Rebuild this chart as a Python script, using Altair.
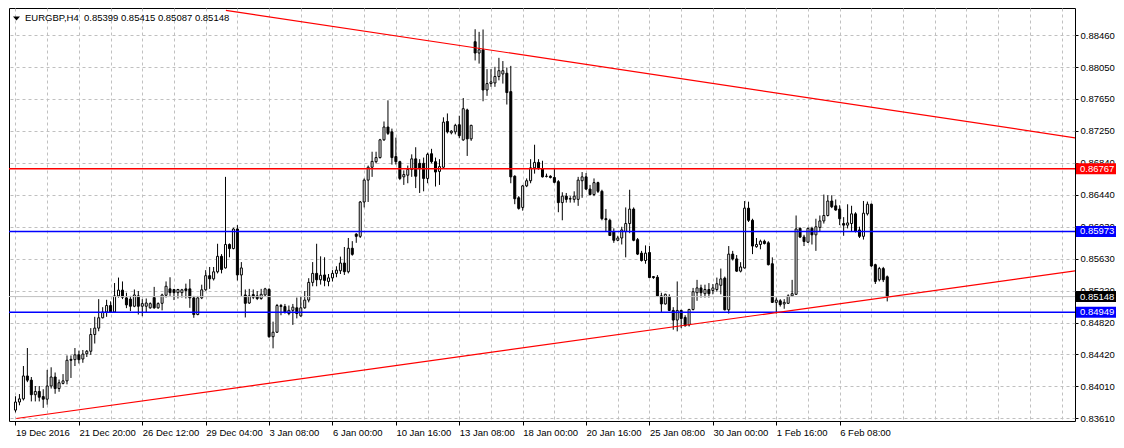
import json
import altair as alt
import pandas as pd

# ---------------- data (EURGBP, H4) ----------------
symbol = "EURGBP"
period = "H4"

opens = [
    0.83711, 0.83813, 0.83853, 0.84143, 0.84090, 0.83906, 0.83947, 0.83882, 0.83849, 0.84016,
    0.84130, 0.83984, 0.84049, 0.84081, 0.84354, 0.84350, 0.84411, 0.84358, 0.84424, 0.84456,
    0.84668, 0.84749, 0.84880, 0.84953, 0.85035, 0.84953, 0.85157, 0.85230, 0.85132, 0.85116,
    0.85026, 0.85157, 0.85026, 0.85026, 0.85006, 0.85136, 0.85006, 0.85063, 0.85165, 0.85246,
    0.85238, 0.85198, 0.85198, 0.85246, 0.85246, 0.85132, 0.84921, 0.85132, 0.85234, 0.85413,
    0.85373, 0.85462, 0.85658, 0.85511, 0.85808, 0.85756, 0.86004, 0.85422, 0.85169, 0.85067,
    0.85173, 0.85157, 0.85124, 0.85169, 0.85238, 0.84640, 0.84697, 0.85022, 0.85022, 0.84933,
    0.84974, 0.85006, 0.84904, 0.85006, 0.85104, 0.85328, 0.85442, 0.85361, 0.85422, 0.85340,
    0.85385, 0.85442, 0.85475, 0.85573, 0.85463, 0.85760, 0.85939, 0.85911, 0.86346, 0.86623,
    0.86786, 0.86856, 0.86908, 0.87133, 0.87295, 0.87234, 0.86921, 0.86856, 0.86664, 0.86685,
    0.86758, 0.86892, 0.86835, 0.86835, 0.86644, 0.86957, 0.86856, 0.86733, 0.86786, 0.87365,
    0.87222, 0.87234, 0.87324, 0.87132, 0.87511, 0.87145, 0.88375, 0.88232, 0.88273, 0.87764,
    0.87845, 0.87853, 0.87935, 0.87967, 0.87976, 0.87743, 0.86672, 0.86399, 0.86277, 0.86550,
    0.86615, 0.86778, 0.86847, 0.86766, 0.86672, 0.86672, 0.86656, 0.86603, 0.86338, 0.86420,
    0.86387, 0.86379, 0.86379, 0.86615, 0.86664, 0.86509, 0.86440, 0.86591, 0.86481, 0.86134,
    0.86114, 0.85971, 0.85861, 0.85890, 0.85971, 0.86073, 0.86256, 0.85869, 0.85698, 0.85605,
    0.85706, 0.85401, 0.85393, 0.85157, 0.85055, 0.85148, 0.84973, 0.84851, 0.84973, 0.84884,
    0.84790, 0.84985, 0.85197, 0.85258, 0.85185, 0.85238, 0.85226, 0.85238, 0.85291, 0.85381,
    0.84981, 0.85686, 0.85625, 0.85470, 0.85511, 0.86268, 0.86114, 0.85780, 0.85808, 0.85849,
    0.85829, 0.85564, 0.85075, 0.85095, 0.85055, 0.85063, 0.85157, 0.85177, 0.86012, 0.85902,
    0.85837, 0.86012, 0.85930, 0.86024, 0.86106, 0.86175, 0.86358, 0.86297, 0.86256, 0.86073,
    0.86053, 0.86073, 0.86196, 0.85992, 0.85911, 0.86196, 0.86318, 0.85552, 0.85361, 0.85503,
    0.85399,
]

highs = [
    0.83886, 0.83914, 0.84269, 0.84497, 0.84130, 0.84016, 0.84016, 0.83975, 0.84220, 0.84253,
    0.84187, 0.84098, 0.84167, 0.84403, 0.84403, 0.84497, 0.84464, 0.84472, 0.84472, 0.84749,
    0.84892, 0.85116, 0.85014, 0.85108, 0.85088, 0.85320, 0.85389, 0.85340, 0.85197, 0.85157,
    0.85238, 0.85218, 0.85116, 0.85124, 0.85075, 0.85271, 0.85075, 0.85185, 0.85340, 0.85393,
    0.85246, 0.85246, 0.85246, 0.85312, 0.85369, 0.85157, 0.85157, 0.85299, 0.85483, 0.85523,
    0.85523, 0.85817, 0.85686, 0.86664, 0.85821, 0.86020, 0.86053, 0.85585, 0.85238, 0.85246,
    0.85238, 0.85218, 0.85246, 0.85259, 0.85255, 0.84831, 0.85055, 0.85055, 0.85055, 0.85035,
    0.85055, 0.85136, 0.85157, 0.85218, 0.85381, 0.85585, 0.85817, 0.85658, 0.85646, 0.85434,
    0.85483, 0.85532, 0.85654, 0.85776, 0.85890, 0.85850, 0.85951, 0.86359, 0.86644, 0.86807,
    0.86982, 0.86982, 0.87145, 0.87365, 0.87633, 0.87275, 0.87161, 0.86868, 0.86746, 0.86807,
    0.86949, 0.87039, 0.86888, 0.86908, 0.86970, 0.87019, 0.86908, 0.86888, 0.87418, 0.87467,
    0.87255, 0.87336, 0.87438, 0.87662, 0.87527, 0.87324, 0.88533, 0.88500, 0.88530, 0.88028,
    0.88028, 0.88057, 0.88171, 0.88130, 0.88049, 0.88069, 0.86684, 0.86420, 0.86562, 0.86644,
    0.86888, 0.87071, 0.86888, 0.86868, 0.86705, 0.86684, 0.86778, 0.86623, 0.86469, 0.86460,
    0.86420, 0.86481, 0.86664, 0.86725, 0.86713, 0.86562, 0.86644, 0.86603, 0.86501, 0.86256,
    0.86134, 0.86012, 0.85918, 0.86032, 0.86277, 0.86501, 0.86277, 0.85890, 0.85727, 0.85796,
    0.85788, 0.85409, 0.85421, 0.85197, 0.85185, 0.85177, 0.85014, 0.85340, 0.84981, 0.84912,
    0.84994, 0.85258, 0.85360, 0.85299, 0.85299, 0.85319, 0.85307, 0.85389, 0.85503, 0.85401,
    0.85788, 0.85727, 0.85674, 0.85584, 0.86358, 0.86350, 0.86134, 0.85890, 0.85869, 0.85869,
    0.85849, 0.85645, 0.85136, 0.85116, 0.85116, 0.85177, 0.85360, 0.86175, 0.86024, 0.85930,
    0.86024, 0.86032, 0.86134, 0.86175, 0.86440, 0.86431, 0.86431, 0.86378, 0.86305, 0.86154,
    0.86317, 0.86298, 0.86216, 0.86033, 0.86359, 0.86351, 0.86326, 0.85564, 0.85524, 0.85524,
    0.85415,
]

lows = [
    0.83682, 0.83772, 0.83833, 0.84065, 0.83821, 0.83821, 0.83821, 0.83739, 0.83780, 0.83984,
    0.83918, 0.83943, 0.84037, 0.84037, 0.84118, 0.84269, 0.84301, 0.84310, 0.84383, 0.84411,
    0.84554, 0.84709, 0.84872, 0.84892, 0.84945, 0.84945, 0.85136, 0.85116, 0.85002, 0.84965,
    0.85014, 0.84921, 0.84900, 0.84953, 0.84994, 0.84994, 0.84994, 0.84974, 0.85136, 0.85157,
    0.85104, 0.85124, 0.85136, 0.85124, 0.85006, 0.84880, 0.84912, 0.85116, 0.85222, 0.85246,
    0.85352, 0.85442, 0.85442, 0.85503, 0.85646, 0.85747, 0.85352, 0.85157, 0.84884, 0.85055,
    0.85116, 0.85104, 0.85108, 0.85157, 0.84627, 0.84493, 0.84688, 0.84912, 0.84933, 0.84912,
    0.84790, 0.84872, 0.84892, 0.84994, 0.85075, 0.85279, 0.85279, 0.85300, 0.85279, 0.85279,
    0.85340, 0.85393, 0.85434, 0.85422, 0.85442, 0.85666, 0.85829, 0.85890, 0.86277, 0.86346,
    0.86664, 0.86835, 0.86896, 0.87120, 0.87194, 0.86819, 0.86819, 0.86623, 0.86562, 0.86583,
    0.86664, 0.86522, 0.86460, 0.86481, 0.86583, 0.86835, 0.86542, 0.86562, 0.86766, 0.87214,
    0.87202, 0.87202, 0.87153, 0.87120, 0.86929, 0.87120, 0.88138, 0.88098, 0.87621, 0.87690,
    0.87804, 0.87804, 0.87886, 0.87845, 0.87580, 0.86583, 0.86318, 0.86249, 0.86236, 0.86534,
    0.86583, 0.86705, 0.86754, 0.86656, 0.86656, 0.86644, 0.86583, 0.86216, 0.86114, 0.86338,
    0.86338, 0.86338, 0.86297, 0.86399, 0.86501, 0.86428, 0.86420, 0.86460, 0.86114, 0.85971,
    0.85918, 0.85829, 0.85849, 0.85808, 0.85645, 0.85951, 0.85849, 0.85674, 0.85592, 0.85564,
    0.85381, 0.85373, 0.85148, 0.84953, 0.85047, 0.84965, 0.84729, 0.84708, 0.84749, 0.84770,
    0.84770, 0.84973, 0.85095, 0.85136, 0.85136, 0.85136, 0.85177, 0.85210, 0.85177, 0.84973,
    0.84933, 0.85605, 0.85462, 0.85454, 0.85503, 0.86093, 0.85686, 0.85767, 0.85747, 0.85808,
    0.85543, 0.85067, 0.84933, 0.85022, 0.84994, 0.85055, 0.85144, 0.85169, 0.85890, 0.85788,
    0.85829, 0.85808, 0.85727, 0.85971, 0.86073, 0.86163, 0.86268, 0.86236, 0.86053, 0.85918,
    0.86012, 0.85972, 0.85960, 0.85890, 0.85870, 0.86175, 0.85524, 0.85308, 0.85340, 0.85332,
    0.85087,
]

closes = [
    0.83813, 0.83853, 0.84143, 0.84090, 0.83906, 0.83947, 0.83874, 0.83849, 0.84016, 0.84130,
    0.83984, 0.84057, 0.84081, 0.84342, 0.84342, 0.84411, 0.84350, 0.84420, 0.84456, 0.84668,
    0.84749, 0.84880, 0.84953, 0.85035, 0.84953, 0.85157, 0.85230, 0.85140, 0.85043, 0.85026,
    0.85169, 0.85026, 0.85059, 0.85067, 0.85059, 0.85006, 0.85059, 0.85169, 0.85279, 0.85198,
    0.85198, 0.85238, 0.85234, 0.85226, 0.85132, 0.84921, 0.85132, 0.85234, 0.85413, 0.85373,
    0.85462, 0.85658, 0.85491, 0.85808, 0.85756, 0.86004, 0.85422, 0.85511, 0.85063, 0.85157,
    0.85141, 0.85124, 0.85177, 0.85246, 0.84640, 0.84697, 0.85035, 0.85035, 0.84953, 0.84974,
    0.85014, 0.84933, 0.85006, 0.85104, 0.85328, 0.85442, 0.85361, 0.85418, 0.85353, 0.85385,
    0.85442, 0.85483, 0.85573, 0.85463, 0.85760, 0.85683, 0.85911, 0.86346, 0.86623, 0.86786,
    0.86860, 0.86908, 0.87133, 0.87295, 0.87214, 0.86908, 0.86856, 0.86644, 0.86693, 0.86758,
    0.86892, 0.86672, 0.86766, 0.86644, 0.86949, 0.86856, 0.86725, 0.86794, 0.87357, 0.87234,
    0.87243, 0.87316, 0.87185, 0.87527, 0.87145, 0.87316, 0.88232, 0.88273, 0.87764, 0.87845,
    0.87866, 0.87935, 0.88008, 0.88008, 0.87731, 0.86664, 0.86387, 0.86265, 0.86550, 0.86615,
    0.86778, 0.86847, 0.86778, 0.86664, 0.86670, 0.86656, 0.86595, 0.86338, 0.86420, 0.86379,
    0.86384, 0.86420, 0.86623, 0.86664, 0.86509, 0.86440, 0.86591, 0.86481, 0.86135, 0.86122,
    0.85922, 0.85861, 0.85890, 0.85992, 0.86073, 0.86256, 0.85861, 0.85686, 0.85605, 0.85698,
    0.85389, 0.85389, 0.85157, 0.85055, 0.85177, 0.84973, 0.84851, 0.84973, 0.84871, 0.84778,
    0.84985, 0.85210, 0.85258, 0.85197, 0.85238, 0.85185, 0.85258, 0.85311, 0.85372, 0.84981,
    0.85686, 0.85625, 0.85470, 0.85523, 0.86268, 0.86114, 0.85788, 0.85808, 0.85849, 0.85820,
    0.85552, 0.85075, 0.85104, 0.85047, 0.85075, 0.85157, 0.85185, 0.86004, 0.85902, 0.85845,
    0.86012, 0.85930, 0.86032, 0.86106, 0.86175, 0.86358, 0.86285, 0.86244, 0.86134, 0.86053,
    0.86081, 0.86196, 0.85972, 0.85911, 0.86204, 0.86318, 0.85536, 0.85340, 0.85503, 0.85361,
    0.85148,
]

# time-axis labels, one every 16 bars
time_labels = [
    "19 Dec 2016", "21 Dec 20:00", "26 Dec 12:00", "29 Dec 04:00", "3 Jan 08:00",
    "6 Jan 00:00", "10 Jan 16:00", "13 Jan 08:00", "18 Jan 00:00", "20 Jan 16:00",
    "25 Jan 08:00", "30 Jan 00:00", "1 Feb 16:00", "6 Feb 08:00",
]
LABEL_STEP = 16
GRID_STEP = 8

# price-axis labels
price_ticks = [0.83610, 0.84010, 0.84420, 0.84820, 0.85220, 0.85630, 0.86030,
               0.86440, 0.86840, 0.87250, 0.87650, 0.88050, 0.88460]

# horizontal levels
level_prices = [0.86767, 0.85973, 0.84949]
level_colors = ["#ff0000", "#0000ff", "#0000ff"]
bid_price = closes[-1]

# trend lines (bar index, price) pairs
trend_names = ["upper", "upper", "lower", "lower"]
trend_bars = [53.1, 269.9, 0.2, 269.9]
trend_prices = [0.88772, 0.87140, 0.83605, 0.85491]

# ---------------- layout ----------------
W, H = 1066, 413
FONT = "Liberation Sans"
FS = 9.5
PX_PER_BAR = 4
X_MIN = -0.375

candles = pd.DataFrame({
    "i": list(range(len(opens))),
    "open": opens, "high": highs, "low": lows, "close": closes,
})
levels = pd.DataFrame({"price": level_prices, "color": level_colors})
tags = pd.DataFrame({
    "price": level_prices + [bid_price],
    "color": level_colors + ["#000000"],
})
trends = pd.DataFrame({"name": trend_names, "bar": trend_bars, "price": trend_prices})
grid_bars = list(range(0, int(X_MIN + W / PX_PER_BAR) + 1, GRID_STEP))

x_scale = alt.Scale(domain=[X_MIN, X_MIN + W / PX_PER_BAR], nice=False, zero=False)
y_scale = alt.Scale(domain=[0.83573, 0.88802], nice=False, zero=False)

last_label_bar = LABEL_STEP * (len(time_labels) - 1)
label_expr = (
    f"(datum.value % {LABEL_STEP} == 0 && datum.value <= {last_label_bar}) "
    f"? {json.dumps(time_labels)}[datum.value / {LABEL_STEP}] : ''"
)

x_axis = alt.Axis(
    values=grid_bars, labelExpr=label_expr, labelAlign="left", labelBaseline="top",
    labelPadding=2, labelOverlap=False, labelFlush=False, labelBound=False,
    tickSize=4, tickColor="black",
    tickOpacity={"condition": {"test": f"datum.value % {LABEL_STEP} == 0 && datum.value <= {last_label_bar}",
                               "value": 1}, "value": 0},
    grid=True, gridColor="#c0c0c0", gridDash=[3, 3], gridWidth=1,
    domain=False, title=None, labelFont=FONT, labelFontSize=FS, labelColor="black",
)
y_axis = alt.Axis(
    orient="right", values=price_ticks, format=".5f", tickSize=3, tickColor="black",
    labelPadding=2, labelOverlap=False, labelBound=False, labelFlush=False,
    grid=True, gridColor="#c0c0c0",
    gridDash=[3, 3], gridWidth=1, domain=False, title=None,
    labelFont=FONT, labelFontSize=FS, labelColor="black",
)

X = lambda f: alt.X(f, scale=x_scale, axis=x_axis)
Y = lambda f: alt.Y(f, scale=y_scale, axis=y_axis)

base = alt.Chart(candles)

wicks = base.mark_rule(color="black", strokeWidth=1).encode(
    x=X("i:Q"), y=Y("low:Q"), y2="high:Q",
)
bodies = base.mark_bar(size=2, stroke="black", strokeWidth=1).encode(
    x=X("i:Q"), y=Y("open:Q"), y2="close:Q",
    fill=alt.condition("datum.close >= datum.open", alt.value("white"), alt.value("black")),
)

bid_line = alt.Chart(pd.DataFrame({"price": [bid_price]})).mark_rule(
    color="#c0c0c0", strokeWidth=1
).encode(y=Y("price:Q"))

level_lines = alt.Chart(levels).mark_rule(strokeWidth=1.5).encode(
    y=Y("price:Q"),
    color=alt.Color("color:N", scale=None),
)

trend_lines = alt.Chart(trends).mark_line(color="#ff0000", strokeWidth=1.2, clip=True).encode(
    x=X("bar:Q"), y=Y("price:Q"), detail="name:N",
)

title_text = (f"{symbol},{period}\u00a0 {opens[-1]:.5f} {highs[-1]:.5f} "
              f"{lows[-1]:.5f} {closes[-1]:.5f}")
title = alt.Chart(pd.DataFrame({"t": [title_text]})).mark_text(
    align="left", baseline="middle", font=FONT, fontSize=FS, color="black"
).encode(x=alt.value(16), y=alt.value(10), text="t:N")

triangle = alt.Chart(pd.DataFrame({"t": [title_text]})).mark_point(
    shape="M-1,-0.6L1,-0.6L0,0.6Z", filled=True, size=49, color="black", opacity=1
).encode(x=alt.value(7.5), y=alt.value(10.5))

tag_boxes = alt.Chart(tags).mark_tick(
    orient="horizontal", size=40, thickness=11, opacity=1
).encode(
    x=alt.value(W + 21),
    y=Y("price:Q"),
    color=alt.Color("color:N", scale=None),
)
tag_text = alt.Chart(tags).mark_text(
    align="left", baseline="middle", font=FONT, fontSize=FS, color="white"
).encode(
    x=alt.value(W + 5),
    y=Y("price:Q"),
    text=alt.Text("price:Q", format=".5f"),
)

chart = alt.layer(
    wicks, bodies, bid_line, level_lines, trend_lines, title, triangle, tag_boxes, tag_text
).properties(
    width=W, height=H, padding=0, background="white"
).configure_axis(
    labelOverlap=False
).configure_view(
    stroke="black", strokeWidth=1
)

chart.save("out.html", embed_options={"renderer": "svg", "actions": False})
